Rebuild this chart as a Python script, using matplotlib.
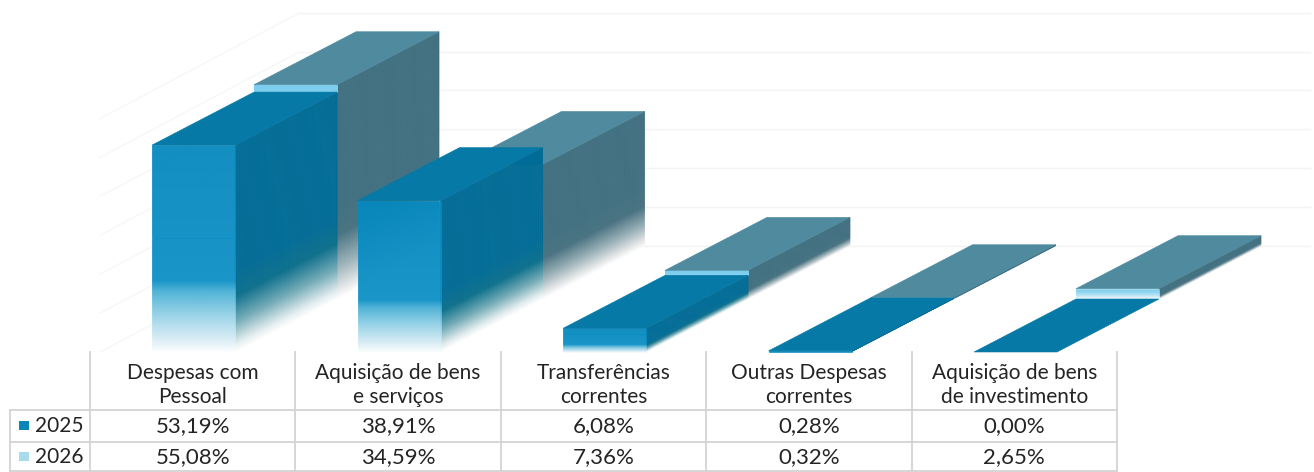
import numpy as np
import matplotlib
matplotlib.use("Agg")
import matplotlib.pyplot as plt
from matplotlib.collections import PolyCollection
from matplotlib.colors import to_rgb
from matplotlib.patches import Polygon, Rectangle

# ── Data ──────────────────────────────────────────────────────
categories = ["Despesas com\nPessoal", "Aquisição de bens\ne serviços",
              "Transferências\ncorrentes", "Outras Despesas\ncorrentes",
              "Aquisição de bens\nde investimento"]
years = ["2025", "2026"]
v2025 = [53.19, 38.91, 6.08, 0.28, 0.00]
v2026 = [55.08, 34.59, 7.36, 0.32, 2.65]

# ── Projection (pixels of the picture) ────────────────────────
W, H = 1314, 472
BASE_Y = 352
PX_PER_PCT = 3.89
X0, PITCH, BAR_W = 152, 205.5, 83
DEPTH_X, DEPTH_Y = 102, 53

C_TOP = {"2025": "#0679a6", "2026": "#4f8a9e"}
C_LINE = "#d2d3d5"
C_TEXT = "#242424"

# gradient stops, t = 0 at the floor, t = 1 at the top of the bar
FRONT = {
    "2025": [(0, "#ffffff"), (0.05, "#e2f1f7"), (0.18, "#98d3e8"),
             (0.3, "#49b0d5"), (0.35, "#0f91c6"), (1, "#0789bf")],
    "2026": [(0, "#ffffff"), (0.3, "#d4edf7"), (0.7, "#8fd6f0"), (1, "#7ccdee")],
}
SIDE = {
    "2025": [(0, "#ffffff"), (0.04, "#e4eef0"), (0.15, "#6fa9b5"),
             (0.27, "#0b6f8c"), (0.4, "#006b96"), (1, "#006b96")],
    "2026": [(0, "#ffffff"), (0.04, "#e8eaeb"), (0.15, "#9db3ba"),
             (0.3, "#47717f"), (0.45, "#3f6f80"), (1, "#3f6f80")],
}


def ramp(stops, t):
    pos = [s[0] for s in stops]
    rgb = np.array([to_rgb(s[1]) for s in stops])
    return np.column_stack([np.interp(t, pos, rgb[:, i]) for i in range(3)])


def grad_face(ax, x0, x1, y0_bot, y1_bot, height, stops, z, t_from=0.0):
    """Fill a sheared face with horizontal strips running floor to top."""
    if height <= 0 or t_from >= 1:
        return
    n = max(int(height), 4)
    t = np.linspace(t_from, 1, n + 1)
    polys = []
    for a, b in zip(t[:-1], t[1:]):
        polys.append([(x0, y0_bot - a * height), (x1, y1_bot - a * height),
                      (x1, y1_bot - b * height), (x0, y0_bot - b * height)])
    cols = ramp(stops, (t[:-1] + t[1:]) / 2)
    ax.add_collection(PolyCollection(polys, facecolors=cols, edgecolors=cols,
                                     linewidths=0.4, zorder=z))


def bar(ax, i, row, value, year, z, covered=0.0):
    """covered = height (in %) of the front bar, hides that part of the face."""
    x = X0 + i * PITCH + row * DEPTH_X
    y = BASE_Y - row * DEPTH_Y
    h = value * PX_PER_PCT
    grad_face(ax, x + BAR_W, x + BAR_W + DEPTH_X, y, y - DEPTH_Y, h, SIDE[year], z)
    if value > 0:
        grad_face(ax, x, x + BAR_W, y, y, h, FRONT[year], z + 0.1,
                  t_from=covered / value)
    top = [(x, y - h), (x + BAR_W, y - h),
           (x + BAR_W + DEPTH_X, y - DEPTH_Y - h), (x + DEPTH_X, y - DEPTH_Y - h)]
    ax.add_patch(Polygon(top, closed=True, fc=C_TOP[year], ec=C_TOP[year],
                         lw=0.4, zorder=z + 0.2))


def grid(ax):
    wall_y = BASE_Y - 2 * DEPTH_Y
    for k in range(0, 7):
        y = wall_y - 10 * PX_PER_PCT * k
        ax.plot([300, 1310], [y, y], color="#f3f3f3", lw=1, zorder=1)
        ax.plot([100, 300], [y + 106, y], color="#f7f7f7", lw=1, zorder=1)


def table(ax):
    col_x = [90 + 205.4 * i for i in range(len(categories) + 1)]
    for x in col_x:
        ax.plot([x, x], [352, 472], color=C_LINE, lw=1.3, zorder=5)
    ax.plot([10, 10], [410, 472], color=C_LINE, lw=1.3, zorder=5)
    for y in (410, 442, 471):
        ax.plot([10, col_x[-1]], [y, y], color=C_LINE, lw=1.3, zorder=5)

    for i, cat in enumerate(categories):
        cx = (col_x[i] + col_x[i + 1]) / 2
        ax.text(cx, 385, cat, ha="center", va="center", fontsize=FS,
                color=C_TEXT, linespacing=1.25, zorder=6)
        for vals, y in ((v2025, 426), (v2026, 457)):
            ax.text(cx, y, f"{vals[i]:.2f}%".replace(".", ","), ha="center",
                    va="center", fontsize=FS + 1, color=C_TEXT, zorder=6)

    for year, y, col in ((years[0], 426, "#0b86b8"), (years[1], 457, "#a8dcec")):
        ax.add_patch(Rectangle((19, y - 5), 10, 9, fc=col, ec="none", zorder=6))
        ax.text(35, y, year, ha="left", va="center", fontsize=FS,
                color=C_TEXT, zorder=6)


FS = 15
plt.rcParams["font.family"] = ["Lato", "DejaVu Sans"]

fig = plt.figure(figsize=(W / 100, H / 100), dpi=100)
ax = fig.add_axes([0, 0, 1, 1])
ax.set_xlim(0, W)
ax.set_ylim(H, 0)
ax.axis("off")

grid(ax)
for i, val in enumerate(v2026):
    bar(ax, i, 1, val, "2026", 2 + i * 0.01, covered=min(v2025[i], val))
for i, val in enumerate(v2025):
    bar(ax, i, 0, val, "2025", 3 + i * 0.01)
table(ax)

fig.savefig("out.png", dpi=100)
